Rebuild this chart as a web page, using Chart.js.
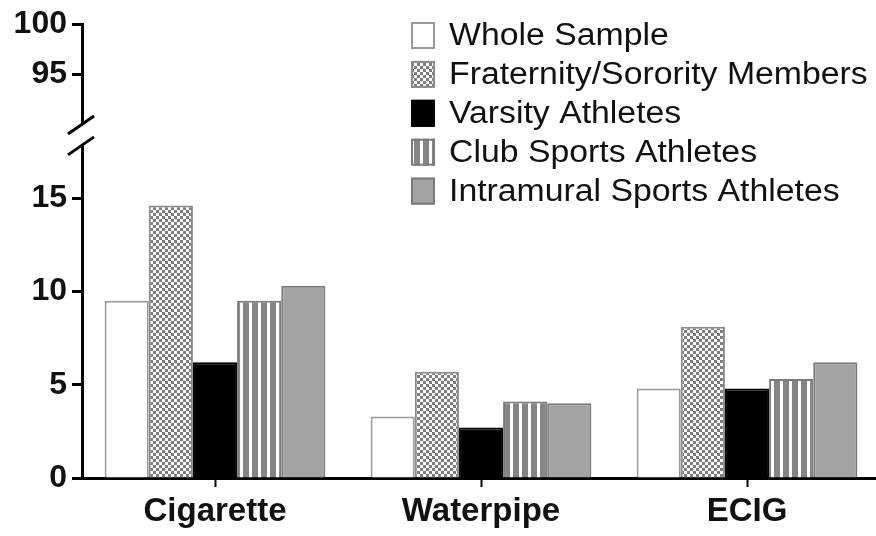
<!DOCTYPE html>
<html><head><meta charset="utf-8">
<script src="https://cdn.jsdelivr.net/npm/chart.js@4/dist/chart.umd.min.js"></script>
<style>html,body{margin:0;padding:0;background:#fff;overflow:hidden}#wrap{width:876px;height:536px;overflow:hidden}</style>
</head><body><div id="wrap"><canvas id="c" width="880" height="536"></canvas></div>
<script>
// ---- data ----
const categories = ['Cigarette', 'Waterpipe', 'ECIG'];
const seriesNames = ['Whole Sample', 'Fraternity/Sorority Members', 'Varsity Athletes', 'Club Sports Athletes', 'Intramural Sports Athletes'];
const wholeSample = [9.5, 3.3, 4.8];
const fraternity = [14.6, 5.7, 8.1];
const varsity = [6.2, 2.7, 4.8];
const clubSports = [9.5, 4.1, 5.3];
const intramural = [10.3, 4.0, 6.2];
const lowerTicks = [0, 5, 10, 15];
const upperTicks = [95, 100];
const lowerRange = [0, 17.8];
const upperRange = [89.9, 100];

// ---- styles ----
const canvas = document.getElementById('c');
const ctx0 = canvas.getContext('2d');
function checker() {
  const c = document.createElement('canvas'); c.width = 6; c.height = 6;
  const x = c.getContext('2d');
  x.fillStyle = '#ffffff'; x.fillRect(0, 0, 6, 6);
  x.fillStyle = '#7d7d7d'; x.fillRect(0, 0, 3, 3); x.fillRect(3, 3, 3, 3);
  return ctx0.createPattern(c, 'repeat');
}
function stripes() {
  const c = document.createElement('canvas'); c.width = 9; c.height = 4;
  const x = c.getContext('2d');
  x.fillStyle = '#ffffff'; x.fillRect(0, 0, 9, 4);
  x.fillStyle = '#858585'; x.fillRect(0, 0, 6, 4);
  return ctx0.createPattern(c, 'repeat');
}
const seriesData = [wholeSample, fraternity, varsity, clubSports, intramural];
const fills = ['#ffffff', checker(), '#000000', stripes(), '#a3a3a3'];
const borders = ['#9a9a9a', '#8a8a8a', '#000000', '#7a7a7a', '#7a7a7a'];

const FONT = '"Liberation Sans", Arial, Helvetica, sans-serif';
const tickFont = { family: FONT, size: 32, weight: 'bold' };

const breakPlugin = {
  id: 'breakMarks',
  afterDraw(chart) {
    const ctx = chart.ctx;
    const lo = chart.scales.y, up = chart.scales.yUp;
    const ax = lo.right - 1;
    ctx.save();
    ctx.strokeStyle = '#000'; ctx.lineWidth = 3; ctx.lineCap = 'butt';
    [lo.top, up.bottom].forEach(yy => {
      ctx.beginPath(); ctx.moveTo(ax - 13, yy + 9); ctx.lineTo(ax + 13, yy - 9); ctx.stroke();
    });
    ctx.restore();
  }
};

const legendPlugin = {
  id: 'customLegend',
  afterDraw(chart) {
    const ctx = chart.ctx;
    ctx.save();
    chart.data.datasets.forEach((ds, i) => {
      const cy = 35.5 + i * 38.9;
      ctx.fillStyle = ds.backgroundColor;
      ctx.fillRect(411, cy - 13.5, 24, 27);
      ctx.strokeStyle = ds.borderColor; ctx.lineWidth = 2;
      ctx.strokeRect(412, cy - 12.5, 22, 25);
      ctx.save();
      ctx.translate(449, cy + 1);
      ctx.scale(1.09, 1);
      ctx.fillStyle = '#111';
      ctx.font = '31px ' + FONT;
      ctx.textBaseline = 'middle'; ctx.textAlign = 'left';
      ctx.fillText(ds.label, 0, 0);
      ctx.restore();
    });
    ctx.restore();
  }
};

new Chart(canvas, {
  type: 'bar',
  data: {
    labels: categories,
    datasets: seriesNames.map((n, i) => ({
      label: n, data: seriesData[i], backgroundColor: fills[i], borderColor: borders[i],
      borderWidth: 2, yAxisID: 'y', categoryPercentage: 0.83, barPercentage: 1.0
    }))
  },
  options: {
    responsive: false, animation: false,
    layout: { padding: { top: 23, right: 0, bottom: 0, left: 0 } },
    plugins: { legend: { display: false }, tooltip: { enabled: false } },
    scales: {
      x: {
        type: 'category',
        grid: { display: true, drawOnChartArea: false, offset: false, tickLength: 9, tickWidth: 2, tickColor: '#000' },
        border: { display: true, width: 3, color: '#000' },
        ticks: { font: { family: FONT, size: 33, weight: 'bold' }, color: '#111', padding: 5 },
        afterFit(s) { s.height = 58; }
      },
      y: {
        type: 'linear', position: 'left', stack: 'v', stackWeight: 333,
        min: lowerRange[0], max: lowerRange[1],
        afterBuildTicks(s) { s.ticks = lowerTicks.map(v => ({ value: v })); },
        grid: { drawOnChartArea: false, tickLength: 10, tickWidth: 3, tickColor: '#000' },
        border: { display: true, width: 3, color: '#000' },
        ticks: { font: tickFont, color: '#111', padding: 5 },
        afterFit(s) { s.width = 82; }
      },
      yGap: {
        type: 'linear', position: 'left', stack: 'v', stackWeight: 21, min: 0, max: 1,
        ticks: { display: false }, grid: { display: false }, border: { display: false },
        afterFit(s) { s.width = 82; }
      },
      yUp: {
        type: 'linear', position: 'left', stack: 'v', stackWeight: 101,
        min: upperRange[0], max: upperRange[1],
        afterBuildTicks(s) { s.ticks = upperTicks.map(v => ({ value: v })); },
        grid: { drawOnChartArea: false, tickLength: 10, tickWidth: 3, tickColor: '#000' },
        border: { display: true, width: 3, color: '#000' },
        ticks: { font: tickFont, color: '#111', padding: 5 },
        afterFit(s) { s.width = 82; }
      }
    }
  },
  plugins: [breakPlugin, legendPlugin]
});
</script>
</body></html>
